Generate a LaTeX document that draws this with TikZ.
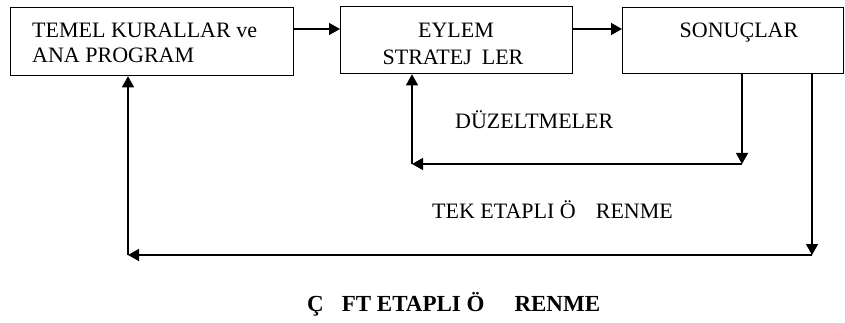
\documentclass[tikz,border=0pt]{standalone}
\usepackage{fontspec}
\setmainfont{Liberation Serif}
\usetikzlibrary{arrows.meta}
\begin{document}
\begin{tikzpicture}[x=1pt,y=-1pt,
  box/.style={draw, line width=1.3pt, rectangle, inner sep=0pt, anchor=north west},
  lbl/.style={inner sep=0pt, font=\fontsize{22}{25}\selectfont},
  conn/.style={line width=1.4pt, -{Triangle[length=11pt,width=12pt]}}]
\useasboundingbox (0,0) rectangle (845,323);
% process boxes
\node[box, minimum width=283pt, minimum height=68pt] (b1) at (10,7) {};
\node[box, minimum width=232pt, minimum height=67pt] (b2) at (340,6) {};
\node[box, minimum width=221pt, minimum height=66pt] (b3) at (622,7) {};
% box texts
\node[lbl, anchor=base west] (t1a) at (32,38) {TEMEL KURALLAR ve};
\node[lbl, anchor=base west] (t1b) at (32,63) {ANA PROGRAM};
\node[lbl, anchor=base] (t2a) at (456,38) {EYLEM};
\node[lbl, anchor=base] (t2b) at (453,65) {STRATEJ\hspace{10pt}LER};
\node[lbl, anchor=base] (t3) at (739,38) {SONUÇLAR};
% loop labels
\node[lbl, anchor=base west] (fix) at (455,129) {DÜZELTMELER};
\node[lbl, anchor=base west] (single) at (432,218) {TEK ETAPLI Ö\hspace{20pt}RENME};
\node[lbl, anchor=base west, font=\fontsize{23}{26}\selectfont\bfseries] (double) at (307,311) {Ç\hspace{18pt}FT ETAPLI Ö\hspace{30pt}RENME};
% forward flow
\coordinate (ya) at (0,29);
\draw[conn] (b1.east |- ya) -- (b2.west |- ya);
\draw[conn] (b2.east |- ya) -- (b3.west |- ya);
% inner feedback loop
\coordinate (c1) at (742,164);
\coordinate (c2) at (412,164);
\draw[conn] (b3.south -| c1) -- (c1);
\draw[conn] (c1) -- (c2);
\draw[conn] (c2) -- (b2.south -| c2);
% outer feedback loop
\coordinate (d1) at (812,255);
\coordinate (d2) at (128,255);
\draw[conn] (b3.south -| d1) -- (d1);
\draw[conn] (d1) -- (d2);
\draw[conn] (d2) -- (b1.south -| d2);
\end{tikzpicture}
\end{document}
